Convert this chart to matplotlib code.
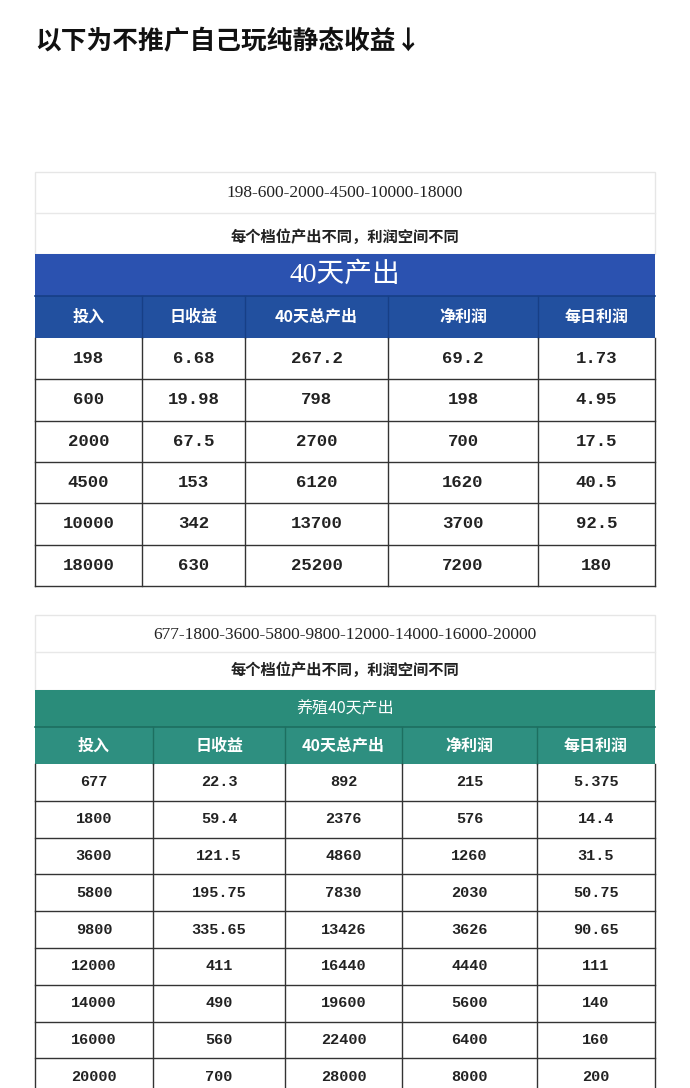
import matplotlib
matplotlib.use("Agg")
import matplotlib.pyplot as plt
from matplotlib.patches import Rectangle

title = "以下为不推广自己玩纯静态收益↓"
headers = ["投入", "日收益", "40天总产出", "净利润", "每日利润"]

t1_line1 = "198-600-2000-4500-10000-18000"
t1_line2 = "每个档位产出不同，利润空间不同"
t1_band = "40天产出"
t1_invest = ["198", "600", "2000", "4500", "10000", "18000"]
t1_daily = ["6.68", "19.98", "67.5", "153", "342", "630"]
t1_total = ["267.2", "798", "2700", "6120", "13700", "25200"]
t1_net = ["69.2", "198", "700", "1620", "3700", "7200"]
t1_dprofit = ["1.73", "4.95", "17.5", "40.5", "92.5", "180"]

t2_line1 = "677-1800-3600-5800-9800-12000-14000-16000-20000"
t2_line2 = "每个档位产出不同，利润空间不同"
t2_band = "养殖40天产出"
t2_invest = ["677", "1800", "3600", "5800", "9800", "12000", "14000", "16000", "20000"]
t2_daily = ["22.3", "59.4", "121.5", "195.75", "335.65", "411", "490", "560", "700"]
t2_total = ["892", "2376", "4860", "7830", "13426", "16440", "19600", "22400", "28000"]
t2_net = ["215", "576", "1260", "2030", "3626", "4440", "5600", "6400", "8000"]
t2_dprofit = ["5.375", "14.4", "31.5", "50.75", "90.65", "111", "140", "160", "200"]

W, H = 690, 1088
fig = plt.figure(figsize=(W/100, H/100), dpi=100)
ax = fig.add_axes([0, 0, 1, 1])
ax.set_xlim(0, W); ax.set_ylim(H, 0); ax.axis("off")
FS = ['Liberation Serif', 'Noto Sans CJK SC']
MONO = ['Liberation Mono', 'Noto Sans CJK SC']
CJK = ['Noto Sans CJK SC', 'DejaVu Sans']

ax.text(35, 42, title, fontsize=18.5, fontweight='bold', family=CJK, va='center', ha='left', color='#111')

def table(top, colx, l1, l2, band, bandfs, bandfam, cols, l1y, liney, l2y, bandtop, hdrtop, rowh, bandc, hdrc, sepc, fs):
    x0, x1 = colx[0], colx[-1]
    ax.add_patch(Rectangle((x0, top), x1-x0, bandtop-top, fc='white', ec='#e6e6e6', lw=1))
    ax.text((x0+x1)/2, l1y, l1, fontsize=12.5, family=FS, ha='center', va='center', color='#222')
    ax.plot([x0, x1], [liney, liney], color='#e8e8e8', lw=1)
    ax.text((x0+x1)/2, l2y, l2, fontsize=11, family=CJK, fontweight='bold', ha='center', va='center', color='#222')
    ax.add_patch(Rectangle((x0, bandtop), x1-x0, hdrtop-bandtop, fc=bandc, ec='none'))
    ax.text((x0+x1)/2, (bandtop+hdrtop)/2, band, fontsize=bandfs, family=bandfam, ha='center', va='center', color='white')
    hb = hdrtop + rowh[0]
    ax.add_patch(Rectangle((x0, hdrtop), x1-x0, rowh[0], fc=hdrc, ec='none'))
    ax.plot([x0, x1], [hdrtop, hdrtop], color=sepc, lw=1.2)
    for i, h in enumerate(headers):
        ax.text((colx[i]+colx[i+1])/2, (hdrtop+hb)/2, h, fontsize=11.5, family=CJK, fontweight='bold',
                ha='center', va='center', color='white')
    for i in range(1, len(colx)-1):
        ax.plot([colx[i], colx[i]], [hdrtop, hb], color=sepc, lw=1)
    n = len(cols[0])
    y = hb
    for r in range(n):
        y2 = min(y + rowh[1], H + 40)
        for c in range(5):
            ax.text((colx[c]+colx[c+1])/2, (y+y2)/2, cols[c][r], fontsize=fs, family=MONO,
                    fontweight='bold', ha='center', va='center', color='#222')
        ax.plot([x0, x1], [y2, y2], color='#333', lw=1)
        y = y2
    for xv in colx:
        ax.plot([xv, xv], [hb, y], color='#333', lw=1)

table(172, [35, 142, 245, 388, 538, 655], t1_line1, t1_line2, t1_band, 20, FS,
      [t1_invest, t1_daily, t1_total, t1_net, t1_dprofit],
      193, 213, 237, 254, 296, (42, 41.3), '#2b52b0', '#22509f', '#173f86', 12.5)
table(615, [35, 153, 285, 402, 537, 655], t2_line1, t2_line2, t2_band, 11.5, CJK,
      [t2_invest, t2_daily, t2_total, t2_net, t2_dprofit],
      635, 652, 670, 690, 727, (37, 36.8), '#2a8c7a', '#2e8f80', '#1d6f60', 11)

fig.savefig("out.png", dpi=100)
